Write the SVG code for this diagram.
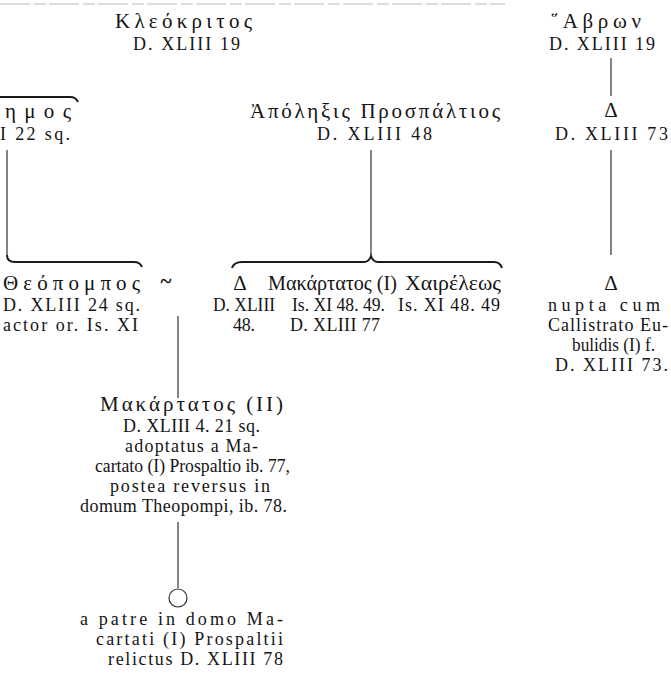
<svg xmlns="http://www.w3.org/2000/svg" width="671" height="694" viewBox="0 0 671 694">
<style>
text{font-family:"Liberation Serif","DejaVu Serif",serif;fill:#141414}
.g{font-size:21px}
.c{font-size:18px}
.m{text-anchor:middle}
.ln{fill:none;stroke:#333;stroke-width:1.2}
.br{fill:none;stroke:#1a1a1a;stroke-width:2}
</style>
<rect width="671" height="694" fill="#fff"/>
<line x1="0" y1="4" x2="505" y2="4" stroke="#bbb" stroke-width="1" stroke-dasharray="30 4 12 3"/>
<g id="connectors">
<path class="br" d="M0,97 H70 Q76,97 78,102"/>
<path class="ln" d="M7,150 V255"/>
<path class="br" d="M7,255 Q7,262 15,262 H134 Q140,262 142,267"/>
<path class="ln" d="M371,150 V255"/>
<path class="br" d="M232,268 Q234,262 242,262 H364 Q369,262 371,256 Q373,262 378,262 H494 Q500,262 502,268"/>
<path class="ln" d="M611,58 V96"/>
<path class="ln" d="M611,150 V255"/>
<path class="ln" d="M178,316 V398"/>
<path class="ln" d="M178,522 V588"/>
<circle class="ln" cx="178" cy="598" r="9"/>
</g>
<g id="kleokritos"><text class="g" x="115" y="28" textLength="137">Κλεόκριτος</text><text class="c" x="133" y="50" textLength="107">D. XLIII 19</text></g>
<g id="habron"><text class="g" x="551" y="28" textLength="90">῞Αβρων</text><text class="c" x="549" y="50" textLength="106">D. XLIII 19</text></g>
<g id="charidemos"><text class="g" x="5" y="118" textLength="66">ημος</text><text class="c" x="0" y="140" textLength="70">I 22 sq.</text></g>
<g id="apolexis"><text class="g" x="250" y="118" textLength="250">Ἀπόληξις Προσπάλτιος</text><text class="c" x="317" y="140" textLength="115">D. XLIII 48</text></g>
<g id="delta1"><text class="g m" x="611" y="117">Δ</text><text class="c" x="555" y="140" textLength="113">D. XLIII 73</text></g>
<g id="theopompos"><text class="g" x="3" y="290" textLength="137">Θεόπομπος</text><text class="c" x="3" y="311" textLength="137">D. XLIII 24 sq.</text><text class="c" x="3" y="331" textLength="135">actor or. Is. XI</text></g>
<g id="marriage"><text class="g m" x="166" y="288" font-weight="bold">~</text></g>
<g id="delta2"><text class="g m" x="240" y="290">Δ</text><text class="c" x="213" y="311" textLength="62" lengthAdjust="spacingAndGlyphs">D. XLIII</text><text class="c" x="233" y="331" textLength="22">48.</text></g>
<g id="makartatos1"><text class="g" x="268" y="290" textLength="129" lengthAdjust="spacingAndGlyphs">Μακάρτατος (I)</text><text class="c" x="292" y="311" textLength="93" lengthAdjust="spacingAndGlyphs">Is. XI 48. 49.</text><text class="c" x="290" y="331" textLength="90">D. XLIII 77</text></g>
<g id="chaireleos"><text class="g" x="405" y="290" textLength="96" lengthAdjust="spacingAndGlyphs">Χαιρέλεως</text><text class="c" x="398" y="311" textLength="102">Is. XI 48. 49</text></g>
<g id="delta3"><text class="g m" x="611" y="290">Δ</text><text class="c" x="548" y="311" textLength="112">nupta cum</text><text class="c" x="548" y="331" textLength="120">Callistrato Eu-</text><text class="c" x="572" y="351" textLength="83" lengthAdjust="spacingAndGlyphs">bulidis (I) f.</text><text class="c" x="555" y="371" textLength="113">D. XLIII 73.</text></g>
<g id="makartatos2"><text class="g" x="100" y="411" textLength="183">Μακάρτατος (II)</text><text class="c" x="123" y="432" textLength="137">D. XLIII 4. 21 sq.</text><text class="c" x="125" y="452" textLength="133">adoptatus a Ma-</text><text class="c" x="95" y="472" textLength="195" lengthAdjust="spacingAndGlyphs">cartato (I) Prospaltio ib. 77,</text><text class="c" x="110" y="492" textLength="160">postea reversus in</text><text class="c" x="80" y="512" textLength="207">domum Theopompi, ib. 78.</text></g>
<g id="child"><text class="c" x="80" y="625" textLength="203">a patre in domo Ma-</text><text class="c" x="96" y="645" textLength="187">cartati (I) Prospaltii</text><text class="c" x="108" y="665" textLength="175">relictus D. XLIII 78</text></g>
</svg>
